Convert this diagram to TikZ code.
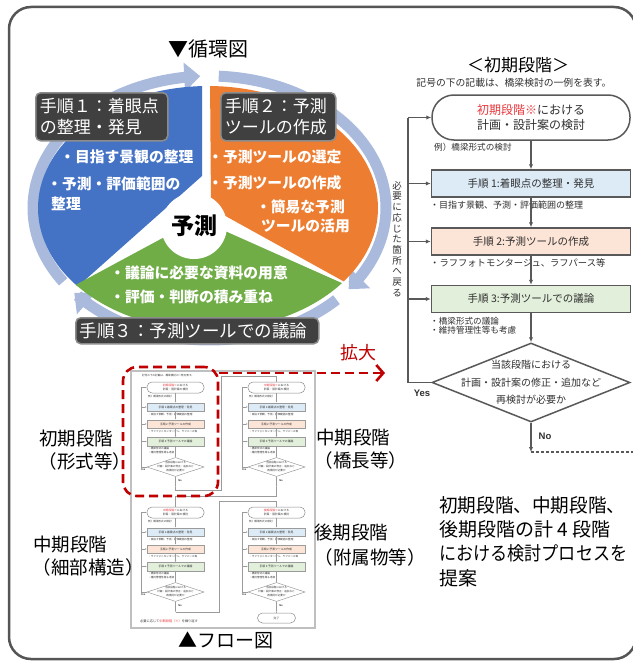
\documentclass[tikz,border=0pt]{standalone}
\usepackage{fontspec}
\usepackage{graphicx}
\setmainfont{Noto Sans CJK JP}
\newfontfamily\arialf{Liberation Sans}
\usetikzlibrary{arrows.meta,shapes.geometric,calc}
\newcommand\fsz[2]{\fontsize{#1}{#2}\selectfont}
\definecolor{cblue}{HTML}{4472C4}
\definecolor{corange}{HTML}{ED7D31}
\definecolor{cgreen}{HTML}{70AD47}
\definecolor{cring}{HTML}{A9BADD}
\definecolor{cbox}{HTML}{404040}
\definecolor{cboxb}{HTML}{8C8C8C}
\definecolor{cred}{HTML}{C00000}
\definecolor{ctred}{HTML}{E8383D}
\definecolor{cline}{HTML}{595959}
\definecolor{ctext}{HTML}{303030}
\definecolor{cb1}{HTML}{DDEBF7}
\definecolor{cb2}{HTML}{FCE4D6}
\definecolor{cb3}{HTML}{E2EFDA}
\definecolor{cframe}{HTML}{555555}
\definecolor{cpage}{HTML}{BFBFBF}

\tikzset{
  frame/.style={draw=cframe,line width=2.5pt,rounded corners=22pt},
  ring/.style={draw=cring,line width=11pt},
  ringtip/.style={-{Triangle[width=28pt,length=16pt]}},
  lblbox/.style={draw=cboxb,line width=1.5pt,fill=cbox,rounded corners=5pt,text=white,font=\fsz{17}{21},align=left,inner xsep=4pt,inner ysep=3pt,anchor=north west},
  bul/.style={text=white,font=\bfseries\fsz{14.8}{19},inner sep=0pt},
  term/.style={draw=cline,line width=1.5pt,rounded corners=22pt,minimum width=198pt,minimum height=45pt,fill=white,align=center,font=\fsz{12}{14.5},text=ctext,inner sep=0pt},
  fbox/.style={draw=cline,line width=1.5pt,minimum width=199pt,minimum height=27pt,font=\fsz{10.5}{12},text=ctext,inner sep=0pt},
  dia/.style={diamond,draw=cline,line width=1.5pt,minimum width=198pt,minimum height=79pt,inner sep=0pt,fill=white},
  arr/.style={draw=cline,line width=1.2pt,-{Latex[length=5pt,width=4.5pt]}},
  ln/.style={draw=cline,line width=1.2pt},
  note/.style={font=\fsz{9}{9.5},text=ctext,inner sep=0pt,anchor=west,align=left},
  big/.style={font=\fsz{18.5}{22},text=black,inner sep=0pt},
  prop/.style={font=\fsz{19}{22},text=black,inner sep=0pt,anchor=west},
  mterm/.style={draw=cline!70,line width=.5pt,rounded corners=5pt,minimum width=57pt,minimum height=11pt,fill=white,align=center,font=\fsz{2.8}{3.4},text=ctext,inner sep=0pt},
  mbox/.style={draw=cline!60,line width=.4pt,minimum width=57pt,minimum height=8.5pt,font=\fsz{2.8}{3.4},text=ctext,inner sep=0pt},
  mdia/.style={diamond,draw=cline!70,line width=.4pt,minimum width=57pt,minimum height=19pt,inner sep=0pt,fill=white},
  mnote/.style={font=\fsz{2.6}{3.2},text=ctext,inner sep=0pt,anchor=west,align=left},
  mtiny/.style={font=\fsz{2.6}{4},text=ctext,inner sep=0pt,align=center},
  mline/.style={draw=cline!60,line width=.45pt},
  marr/.style={draw=cline!60,line width=.45pt,-{Latex[length=1.6pt,width=1.4pt]}},
  redd/.style={draw=cred,line width=2.6pt,dash pattern=on 9pt off 5pt},
}

\newcommand\minichart[4]{%
\begin{scope}[shift={(#2,#3)},name prefix=#1-]
\node[mterm] (t) at (28.5,5.5) {\textcolor{ctred}{#4}における\\計画・設計案の検討};
\node[mnote] (e) at (1,15) {例）橋梁形式の検討};
\node[mbox,fill=cb1] (b1) at (28.5,25) {手順 1:着眼点の整理・発見};
\node[mnote] (n1) at (1,32.5) {・目指す景観、予測・評価範囲の整理};
\node[mbox,fill=cb2] (b2) at (28.5,42) {手順 2:予測ツールの作成};
\node[mnote] (n2) at (1,49.5) {・ラフフォトモンタージュ、ラフパース等};
\node[mbox,fill=cb3] (b3) at (28.5,59.5) {手順 3:予測ツールでの議論};
\node[mnote] (n3) at (1,68.5) {・橋梁形式の議論\\・維持管理性等も考慮};
\node[mdia] (d) at (28.5,85) {};
\node[mtiny] (dt) at (d) {当該段階における\\計画・設計案の修正・追加など\\再検討が必要か};
\coordinate (nb) at (28.5,105);
\coordinate (lt) at (-6,5.5);
\coordinate (lb) at (-6,85);
\draw[mline] (d.west) -- (lb) -- (lt);
\draw[marr] (lt) -- (t.west);
\draw[marr] (lt |- b1.west) -- (b1.west);
\draw[marr] (lt |- b2.west) -- (b2.west);
\draw[marr] (lt |- b3.west) -- (b3.west);
\draw[marr] (t.south) -- (b1.north);
\draw[marr] (b1.south) -- (b2.north);
\draw[marr] (b2.south) -- (b3.north);
\draw[marr] (b3.south) -- (d.north);
\draw[marr] (d.south) -- (nb);
\node[mtiny,font=\arialf\bfseries\fsz{2.6}{3}] (yes) at (-4,88) {Yes};
\node[mtiny,font=\arialf\bfseries\fsz{2.6}{3}] (no) at (33,99) {No};
\end{scope}}

\begin{document}
\begin{tikzpicture}[x=1pt,y=-1pt]
\useasboundingbox (0,0) rectangle (632,661);
\fill[white] (0,0) rectangle (632,661);
\draw[frame] (9,7) rectangle (636,659);

% ---------- cycle diagram ----------
\node[font=\fsz{20}{24},inner sep=0pt] (ttl) at (208,49) {▼循環図};

\draw[ring,ringtip] plot[domain=146:267,samples=60] ({209.5+176.5*cos(\x)},{208+132*sin(\x)});
\draw[ring,ringtip] plot[domain=-87:38,samples=60] ({209.5+176.5*cos(\x)},{208+132*sin(\x)});
\draw[ring,ringtip] plot[domain=44:140,samples=60] ({209.5+176.5*cos(\x)},{208+132*sin(\x)});

\fill[cblue] (202,176) -- plot[domain=268:140,samples=60] ({208+170*cos(\x)},{208+122*sin(\x)}) -- cycle;
\fill[corange] (211,208) -- plot[domain=-89.3:37,samples=60] ({208+170*cos(\x)},{208+122*sin(\x)}) -- cycle;
\fill[cgreen] (198,219) -- plot[domain=38:141,samples=60] ({208+170*cos(\x)},{208+122*sin(\x)}) -- cycle;

\node[circle,fill=white,minimum size=66pt,inner sep=0pt,font=\bfseries\fsz{23}{26}] (ctr) at (194,226) {予測};

\node[lblbox,text width=124pt,minimum height=48pt] (s1) at (35,92) {手順１：着眼点\\の整理・発見};
\node[lblbox,text width=107pt,minimum height=48pt] (s2) at (220,92) {手順２：予測\\ツールの作成};
\node[lblbox,text width=235pt,minimum height=26pt,font=\fsz{17.5}{20}] (s3) at (75,317) {手順３：予測ツールでの議論};

\node[bul,anchor=west] (b1a) at (60,157) {・目指す景観の整理};
\node[bul,anchor=west] (b1b) at (47,184) {・予測・評価範囲の};
\node[bul,anchor=west] (b1c) at (51,204) {整理};
\node[bul,anchor=west] (b2a) at (208,157) {・予測ツールの選定};
\node[bul,anchor=west] (b2b) at (208,183) {・予測ツールの作成};
\node[bul,anchor=east] (b2c) at (345,207) {・簡易な予測};
\node[bul,anchor=east] (b2d) at (350,226) {ツールの活用};
\node[bul,anchor=west] (g1) at (110,273) {・議論に必要な資料の用意};
\node[bul,anchor=west] (g2) at (110,297) {・評価・判断の積み重ね};

% ---------- enlarged flow chart ----------
\node[font=\fsz{17}{20},inner sep=0pt] (rtitle) at (518,65) {＜初期段階＞};
\node[font=\fsz{9.8}{11},text=ctext,inner sep=0pt] (rnote) at (514,83) {記号の下の記載は、橋梁検討の一例を表す。};

\node[term] (t0) at (531,117.5) {\textcolor{ctred}{初期段階※}における\\計画・設計案の検討};
\node[note,font=\fsz{8.6}{9}] (ex) at (434,147) {例）橋梁形式の検討};
\node[fbox,fill=cb1] (f1) at (531,183.5) {手順 1:着眼点の整理・発見};
\node[note] (nt1) at (430,205) {・目指す景観、予測・評価範囲の整理};
\node[fbox,fill=cb2] (f2) at (531,241.5) {手順 2:予測ツールの作成};
\node[note,font=\fsz{9.3}{9.5}] (nt2) at (430,263) {・ラフフォトモンタージュ、ラフパース等};
\node[fbox,fill=cb3] (f3) at (531,299) {手順 3:予測ツールでの議論};
\node[note,font=\fsz{8.6}{9}] (nt3) at (430,325.5) {・橋梁形式の議論\\・維持管理性等も考慮};
\node[dia] (dd) at (531,382.5) {};
\node[font=\fsz{10}{17.5},text=ctext,align=center,inner sep=0pt] (ddt) at (dd) {当該段階における\\計画・設計案の修正・追加など\\再検討が必要か};

\draw[arr] (t0.south) -- (f1.north);
\draw[arr] (f1.south) -- (f2.north);
\draw[arr] (f2.south) -- (f3.north);
\draw[arr] (f3.south) -- (dd.north);
\coordinate (nend) at (531,452);
\coordinate (dend) at (640,452);
\draw[arr] (dd.south) -- (nend);
\draw[ln,dash pattern=on 3pt off 2pt] (nend) -- (dend);

\coordinate (yb) at (408,382.5);
\coordinate (yt) at (408,117.5);
\draw[ln] (dd.west) -- (yb) -- (yt);
\draw[arr] (yt) -- (t0.west);
\draw[arr] (yt |- f1.west) -- (f1.west);
\draw[arr] (yt |- f2.west) -- (f2.west);
\draw[arr] (yt |- f3.west) -- (f3.west);
\node[font=\arialf\bfseries\fsz{9.5}{11},text=ctext,inner sep=0pt] (yes) at (422,393) {Yes};
\node[font=\arialf\bfseries\fsz{9.5}{11},text=ctext,inner sep=0pt] (no) at (545,436) {No};
\node[font=\fsz{9.5}{10.7},text=ctext,align=center,inner sep=0pt] (vt) at (397,239) {必\\要\\に\\応\\じ\\た\\箇\\所\\へ\\戻\\る};

% ---------- thumbnail ----------
\node[draw=cpage,line width=1.5pt,fill=white,minimum width=184pt,minimum height=257pt,inner sep=0pt] (page) at (223,499.5) {};
\node[mnote] (pnote) at (142,376) {記号の下の記載は、橋梁検討の一例を表す。};
\minichart{c1}{147}{382}{初期段階※}
\minichart{c2}{248}{382}{中期段階※}
\minichart{c3}{147}{507}{中期段階※}
\minichart{c4}{248}{507}{後期段階※}
\node[mterm,minimum width=38pt,minimum height=10pt] (done) at (276.5,618) {完了};
\node[mnote,font=\fsz{3.2}{4}] (foot) at (140,621) {必要に応じて\textcolor{ctred}{中期段階（※）}を繰り返す};

\coordinate (j1) at (221,490);
\coordinate (j2) at (221,376);
\draw[mline] (c1-nb) -- (c1-nb |- j1) -- (j1) -- (j2) -- (j2 -| c2-t.north) -- (c2-t.north);
\coordinate (j3) at (175.5,496);
\draw[mline] (c2-nb) -- (c2-nb |- j3) -- (j3) -- (c3-t.north);
\coordinate (j4) at (219,612);
\coordinate (j5) at (219,501);
\draw[mline] (c3-nb) -- (j4) -- (j5) -- (j5 -| c4-t.north) -- (c4-t.north);
\draw[mline] (c4-nb) -- (done.north);

\node[redd,rounded corners=14pt,minimum width=95pt,minimum height=129pt,inner sep=0pt] (zbox) at (170.5,431.5) {};
\coordinate (zs) at (219,373);
\coordinate (ze) at (385,373);
\draw[redd,-{Straight Barb[length=7pt,width=16pt]}] (zs) -- (ze);
\node[font=\fsz{18}{20},text=cred,inner sep=0pt] (kakudai) at (358,353) {拡大};

\node[font=\fsz{19}{22},inner sep=0pt] (flowt) at (226,640) {▲フロー図};

\node[big] (l1a) at (76,439) {初期段階};
\node[big] (l1b) at (85,461) {（形式等）};
\node[big] (l2a) at (353,438) {中期段階};
\node[big] (l2b) at (361,460) {（橋長等）};
\node[big] (l3a) at (70,545) {中期段階};
\node[big] (l3b) at (88,567) {（細部構造）};
\node[big] (l4a) at (351,533) {後期段階};
\node[big] (l4b) at (370,557) {（附属物等）};

\node[prop] (p1) at (439,505) {\scalebox{0.98}[1]{初期段階、中期段階、}};
\node[prop] (p2) at (439,529) {後期段階の計 4 段階};
\node[prop] (p3) at (439,553) {\scalebox{0.9}[1]{における検討プロセスを}};
\node[prop] (p4) at (439,578) {提案};
\end{tikzpicture}
\end{document}
